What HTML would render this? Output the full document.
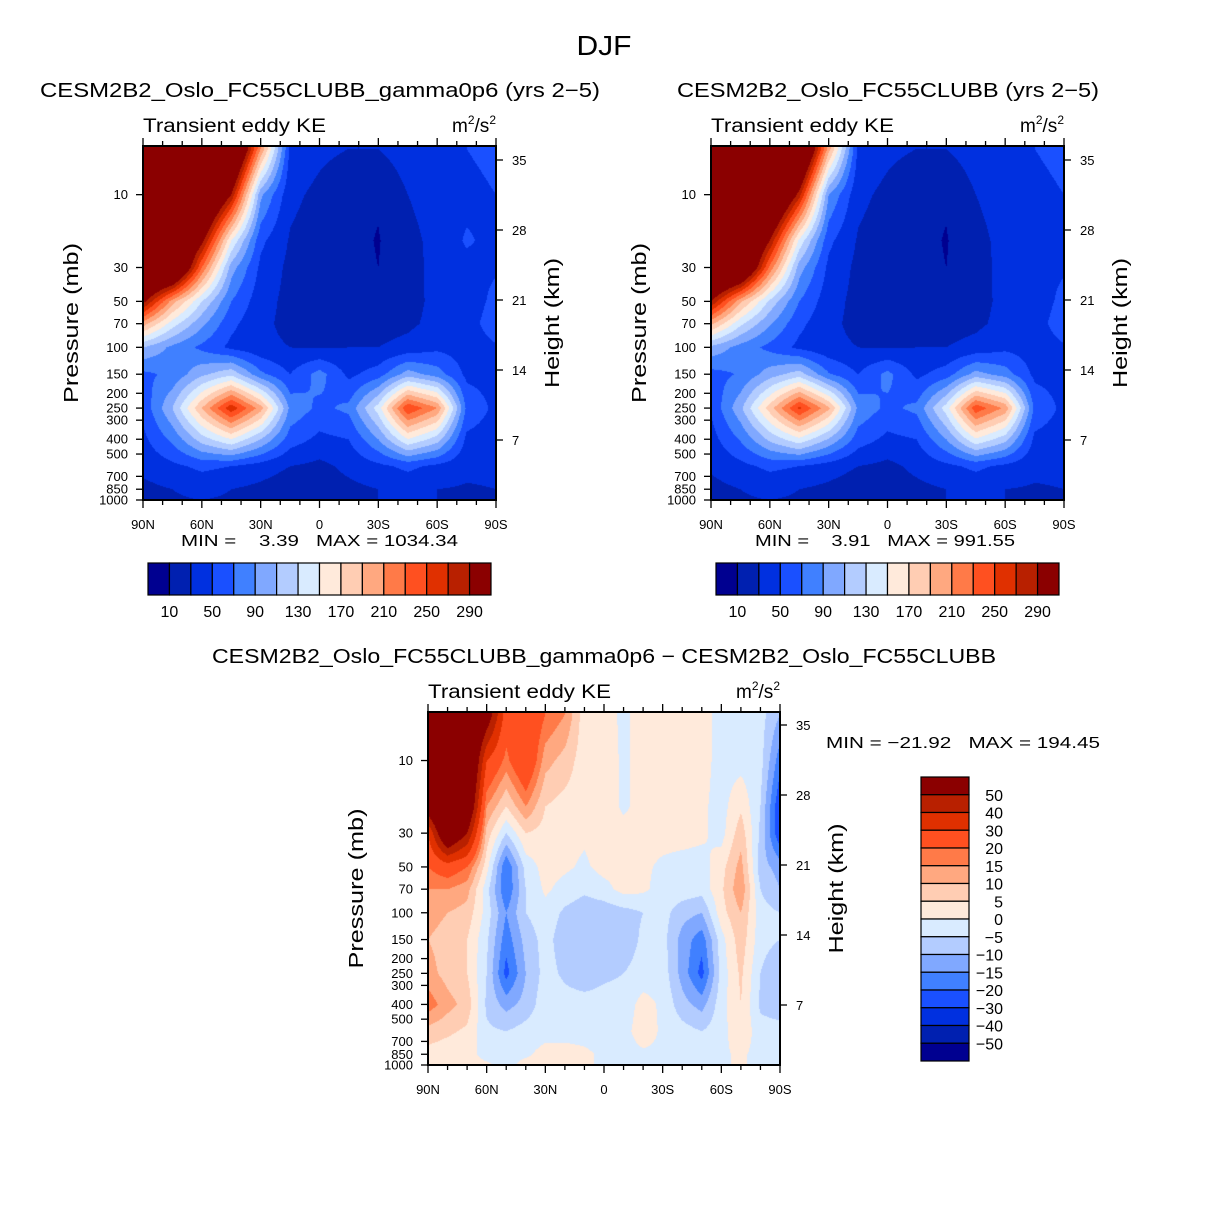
<!DOCTYPE html>
<html><head><meta charset="utf-8">
<style>
html,body{margin:0;padding:0;background:#fff;}
#wrap{position:relative;width:1208px;height:1210px;overflow:hidden;font-family:"Liberation Sans",sans-serif;}
canvas{position:absolute;}
svg{position:absolute;left:0;top:0;}
</style></head>
<body>
<div id="wrap">
<canvas id="c1" width="353" height="354" style="left:143px;top:146px"></canvas>
<canvas id="c2" width="353" height="354" style="left:711px;top:146px"></canvas>
<canvas id="c3" width="352" height="353" style="left:428px;top:712px"></canvas>
<svg id="s" width="1208" height="1210"></svg>
</div>
<script>
// ---- data ----
const pLevels=[5,10,20,30,50,70,100,150,250,400,600,850,1000];
const lats15=[90,75,60,45,30,15,0,-15,-30,-45,-60,-75,-90];
const lats10=[90,80,70,60,50,40,30,20,10,0,-10,-20,-30,-40,-50,-60,-70,-80,-90];
// rows = pressure levels, cols = lats15
const keA=[
[400,400,400,400,210,45,35,30,30,40,45,50,55],
[400,400,400,290,95,35,25,14,12,30,42,45,50],
[400,400,300,150,55,28,20,15,9,22,38,52,45],
[400,390,230,100,45,25,18,15,10,20,38,45,48],
[300,200,130,70,38,24,18,12,18,22,36,40,55],
[200,140,95,55,35,24,20,18,22,26,36,42,60],
[110,85,65,45,35,30,28,30,30,36,45,40,48],
[65,75,105,125,75,50,78,45,60,100,80,45,42],
[55,110,190,265,200,85,65,75,140,250,210,65,45],
[45,75,120,150,110,60,45,50,90,150,120,45,40],
[35,45,55,50,40,30,25,35,45,55,45,35,35],
[25,30,35,30,25,18,20,25,30,35,30,28,30],
[25,28,30,28,25,15,18,25,30,35,30,30,30]];
const keB=[
[400,400,400,400,200,45,35,30,30,40,45,50,55],
[400,400,400,280,90,35,25,14,12,30,42,45,50],
[400,400,290,145,55,28,20,15,9,22,38,50,45],
[400,380,225,100,45,25,18,15,10,20,38,45,48],
[290,195,125,70,38,24,18,12,18,22,36,40,55],
[195,135,92,55,35,24,20,18,22,26,36,42,60],
[105,82,64,45,35,30,28,30,30,36,45,40,48],
[62,72,100,120,72,50,76,45,60,98,80,45,42],
[52,105,180,255,195,85,65,75,140,245,205,65,45],
[42,72,115,145,108,60,45,50,90,148,118,45,40],
[33,44,55,50,40,30,25,35,45,55,45,35,35],
[24,30,35,30,25,18,20,25,30,35,30,28,30],
[24,28,30,28,25,15,18,25,30,35,30,30,30]];
// rows = pressure levels, cols = lats10
const keDiff=[
[80,80,80,60,25,30,20,15,2,2,-1,2,3,3,2,-2,-2,-3,-10],
[80,80,80,30,18,30,12,8,2,3,-1,2,3,3,2,-2,-2,-3,-18],
[60,80,70,15,5,15,5,3,2,3,-1,2,2,2,1,-2,4,-5,-25],
[30,70,50,8,-5,5,3,2,1,3,2,2,2,2,1,-2,8,-6,-25],
[20,25,20,2,-20,-3,2,1,-1,2,2,1,-1,-2,-2,3,12,-8,-12],
[15,15,12,-3,-20,-5,1,-2,-4,-2,2,1,-2,-2,-3,4,14,-5,-10],
[12,10,8,-2,-15,-5,-2,-6,-8,-8,-7,-5,-3,-8,-10,3,10,-3,-5],
[10,8,5,-4,-18,-8,-3,-8,-10,-10,-8,-4,-3,-12,-18,-2,8,-3,-5],
[12,8,5,-5,-22,-10,-3,-6,-8,-6,-5,-3,-2,-12,-22,-3,6,-5,-10],
[18,12,8,-6,-12,-8,-2,-3,-3,-3,-3,2,-1,-8,-12,-2,5,-6,-8],
[8,6,4,-4,-5,-3,-2,-2,-2,-2,-2,3,-1,-3,-5,-2,4,-3,-3],
[3,2,2,-2,-2,-1,2,2,1,-1,-2,-1,-1,-2,-2,-1,1,-2,-2],
[2,2,2,1,-2,2,2,2,1,-1,-2,-1,-1,-1,-2,-1,1,-2,-2]];
const boundsKE=[10,30,50,70,90,110,130,150,170,190,210,230,250,270,290];
const boundsDiff=[-50,-40,-30,-20,-15,-10,-5,0,5,10,15,20,30,40,50];
const colors=['#000090','#0020b0','#0030e0','#1a50ff','#4080ff','#80a8ff','#b3ccff','#d9ebff','#ffeadb','#ffcdb3','#ffa880','#ff7a48','#ff5020','#e03000','#b82000','#8b0000'];
const pTicks=[10,30,50,70,100,150,200,250,300,400,500,700,850,1000];
const zTicks=[7,14,21,28,35];
const latTicks=[90,60,30,0,-30,-60,-90];
const latLabels=['90N','60N','30N','0','30S','60S','90S'];

// ---- helpers ----
const PTOP=4.8;
function yP(p,y0,h){return y0+h*(Math.log10(p)-Math.log10(PTOP))/(3-Math.log10(PTOP));}
function xL(lat,x0,w){return x0+w*(90-lat)/180;}
function hex(c){return [parseInt(c.substr(1,2),16),parseInt(c.substr(3,2),16),parseInt(c.substr(5,2),16)];}
const rgb=colors.map(hex);
function interp(field,lats,lat,p){
  const lp=Math.log10(p);let i=0;
  while(i<pLevels.length-2&&Math.log10(pLevels[i+1])<lp)i++;
  let ty=(lp-Math.log10(pLevels[i]))/(Math.log10(pLevels[i+1])-Math.log10(pLevels[i]));ty=Math.max(0,Math.min(1,ty));
  let j=0;while(j<lats.length-2&&lats[j+1]>lat)j++;
  let tx=(lats[j]-lat)/(lats[j]-lats[j+1]);tx=Math.max(0,Math.min(1,tx));
  const a=field[i][j],b=field[i][j+1],c=field[i+1][j],d=field[i+1][j+1];
  return (a*(1-tx)+b*tx)*(1-ty)+(c*(1-tx)+d*tx)*ty;
}
function drawField(id,field,lats,bounds){
  const cv=document.getElementById(id),ctx=cv.getContext('2d');
  const W=cv.width,H=cv.height,img=ctx.createImageData(W,H);
  for(let y=0;y<H;y++){
    const p=Math.pow(10,Math.log10(PTOP)+(y+0.5)/H*(3-Math.log10(PTOP)));
    for(let x=0;x<W;x++){
      const lat=90-(x+0.5)/W*180;
      const v=interp(field,lats,lat,p);
      let k=0;while(k<bounds.length&&v>=bounds[k])k++;
      const c=rgb[k],o=(y*W+x)*4;
      img.data[o]=c[0];img.data[o+1]=c[1];img.data[o+2]=c[2];img.data[o+3]=255;
    }
  }
  ctx.putImageData(img,0,0);
}
drawField('c1',keA,lats15,boundsKE);
drawField('c2',keB,lats15,boundsKE);
drawField('c3',keDiff,lats10,boundsDiff);

const svg=document.getElementById('s');
const NS='http://www.w3.org/2000/svg';
function mk(tag,attrs,parent){const e=document.createElementNS(NS,tag);for(const k in attrs)e.setAttribute(k,attrs[k]);(parent||svg).appendChild(e);return e;}
function txt(x,y,s,size,anchor,parent,name,rot,len){
  const t=mk('text',{x:x,y:y,'font-size':size,'text-anchor':anchor||'start',fill:'#000','font-family':'Liberation Sans, sans-serif'},parent);
  if(rot)t.setAttribute('transform','rotate(-90 '+x+' '+y+')');
  if(len){t.setAttribute('textLength',len);t.setAttribute('lengthAdjust','spacingAndGlyphs');}
  
  
  t.textContent=s;return t;
}
function panel(x0,y0,w,h,title,tx,tlen,pname){
  const g=mk('g',{});
  
  
  mk('rect',{x:x0,y:y0,width:w,height:h,fill:'none',stroke:'#000','stroke-width':2},g);
  for(let lat=90;lat>=-90;lat-=10){
    const x=xL(lat,x0,w),major=lat%30===0;
    mk('line',{x1:x,x2:x,y1:y0+h,y2:y0+h+(major?8:5),stroke:'#000','stroke-width':1.3},g);
    mk('line',{x1:x,x2:x,y1:y0,y2:y0-(major?8:5),stroke:'#000','stroke-width':1.3},g);
  }
  latTicks.forEach((lat,i)=>txt(xL(lat,x0,w),y0+h+29,latLabels[i],13,'middle',g,'x-tick-label'));
  pTicks.forEach(p=>{const y=yP(p,y0,h);
    mk('line',{x1:x0-7,x2:x0,y1:y,y2:y,stroke:'#000','stroke-width':1.3},g);
    txt(x0-15,y+4.5,String(p),13,'end',g,'y-tick-label');});
  zTicks.forEach(z=>{const y=y0+h+10-10*z;
    mk('line',{x1:x0+w,x2:x0+w+7,y1:y,y2:y,stroke:'#000','stroke-width':1.3},g);
    txt(x0+w+16,y+5,String(z),13,'start',g,'height-tick-label');});
  txt(x0-65,y0+h/2,'Pressure (mb)',20,'middle',g,'y-axis-title',true,160);
  txt(x0+w+63,y0+h/2,'Height (km)',20,'middle',g,'height-axis-title',true,130);
  txt(x0,y0-14,'Transient eddy KE',19,'start',g,'variable-label',false,183);
  const u=txt(x0+w,y0-14,'m',19,'end',g,'units-label');
  u.innerHTML='m<tspan font-size="12" dy="-8">2</tspan><tspan dy="8">/s</tspan><tspan font-size="12" dy="-8">2</tspan>';
  txt(tx,y0-49,title,20,'middle',g,'panel-title',false,tlen);
}
txt(604,55,'DJF',28,'middle',null,'figure-title',false,55);
panel(143,146,353,354,'CESM2B2_Oslo_FC55CLUBB_gamma0p6 (yrs 2−5)',320,560,'panel-gamma0p6');
panel(711,146,353,354,'CESM2B2_Oslo_FC55CLUBB (yrs 2−5)',888,422,'panel-control');
panel(428,712,352,353,'CESM2B2_Oslo_FC55CLUBB_gamma0p6 − CESM2B2_Oslo_FC55CLUBB',604,784,'panel-difference');
function minmax(x,y,s,len,name){const t=txt(x,y,s,16,'start',null,name,false,len);t.setAttribute('xml:space','preserve');t.style.whiteSpace='pre';}
minmax(181,546,'MIN =    3.39   MAX = 1034.34',277,'minmax-1');
minmax(755,546,'MIN =    3.91   MAX = 991.55',260,'minmax-2');
minmax(826,748,'MIN = −21.92   MAX = 194.45',274,'minmax-diff');
function hbar(x0,name){
  const g=mk('g',{});
  
  
  const bw=343/16;
  colors.forEach((c,i)=>{const r=mk('rect',{x:x0+i*bw,y:563,width:bw,height:32,fill:c,stroke:'#000','stroke-width':1.2},g);
    
    });
  boundsKE.forEach((b,i)=>{if(i%2===0)txt(x0+(i+1)*bw,617,String(b),16,'middle',g,'colorbar-label');});
}
hbar(148,'colorbar-1');hbar(716,'colorbar-2');
(function(){
  const g=mk('g',{});
  
  
  const bh=284/16;
  colors.slice().reverse().forEach((c,i)=>{const r=mk('rect',{x:921,y:777+i*bh,width:48,height:bh,fill:c,stroke:'#000','stroke-width':1.2},g);
    
    });
  boundsDiff.slice().reverse().forEach((b,i)=>txt(1003,777+(i+1)*bh+6,String(b).replace('-','−'),16,'end',g,'colorbar-label'));
})();
</script>
</body></html>
